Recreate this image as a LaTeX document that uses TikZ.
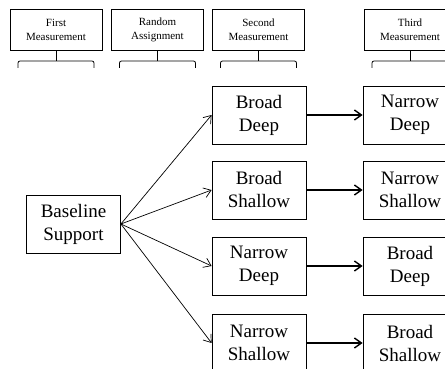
\documentclass[tikz,border=0pt]{standalone}
\usepackage{fontspec}
\setmainfont{Liberation Serif}
\usetikzlibrary{arrows.meta}

\begin{document}
\begin{tikzpicture}[x=1pt, y=-1pt,
    header/.style={draw, line width=0.8pt, minimum width=92pt, minimum height=41pt,
        inner sep=0pt, align=center, font=\fontsize{11}{14}\selectfont},
    group/.style={draw, line width=0.8pt, minimum width=94pt, minimum height=58pt,
        inner sep=0pt, align=center, font=\fontsize{19}{23}\selectfont},
    brace/.style={line width=0.8pt, rounded corners=2pt},
    branch/.style={-{Straight Barb[length=7pt,width=10pt]}, line width=0.7pt},
    swap/.style={-{Straight Barb[length=7pt,width=10pt]}, line width=1.4pt}]

    \def\braceHalf{38}

    \useasboundingbox (0,0) rectangle (445,369);
    \clip (0,0) rectangle (445,369);

    % measurement headers with their braces
    \foreach \name/\cx/\txt in {first/56/{First\\Measurement},
                                random/157.5/{Random\\Assignment},
                                second/258.5/{Second\\Measurement},
                                third/410/{Third\\Measurement}} {
        \node[header] (\name) at (\cx,29.5) {\txt};
        \coordinate (\name brace) at (\cx,61);
        \draw[brace] (\cx-\braceHalf,68) -- (\cx-\braceHalf,61) -- (\cx+\braceHalf,61) -- (\cx+\braceHalf,68);
        \draw[line width=0.8pt] (\name) -- (\name brace);
    }

    \node[group] (base) at (73.5,224) {Baseline\\Support};

    \node[group] (bd) at (259,115) {Broad\\Deep};
    \node[group] (bs) at (259,190) {Broad\\Shallow};
    \node[group] (nd) at (259,266) {Narrow\\Deep};
    \node[group] (ns) at (259,343) {Narrow\\Shallow};

    \node[group] (ndLast) at (410,115) {Narrow\\Deep};
    \node[group] (nsLast) at (410,190) {Narrow\\Shallow};
    \node[group] (bdLast) at (410,266) {Broad\\Deep};
    \node[group] (bsLast) at (410,343) {Broad\\Shallow};

    \foreach \b in {bd,bs,nd,ns}
        \draw[branch] (base.east) -- (\b.west);

    \foreach \a/\b in {bd/ndLast, bs/nsLast, nd/bdLast, ns/bsLast}
        \draw[swap] (\a) -- (\b);

\end{tikzpicture}
\end{document}
